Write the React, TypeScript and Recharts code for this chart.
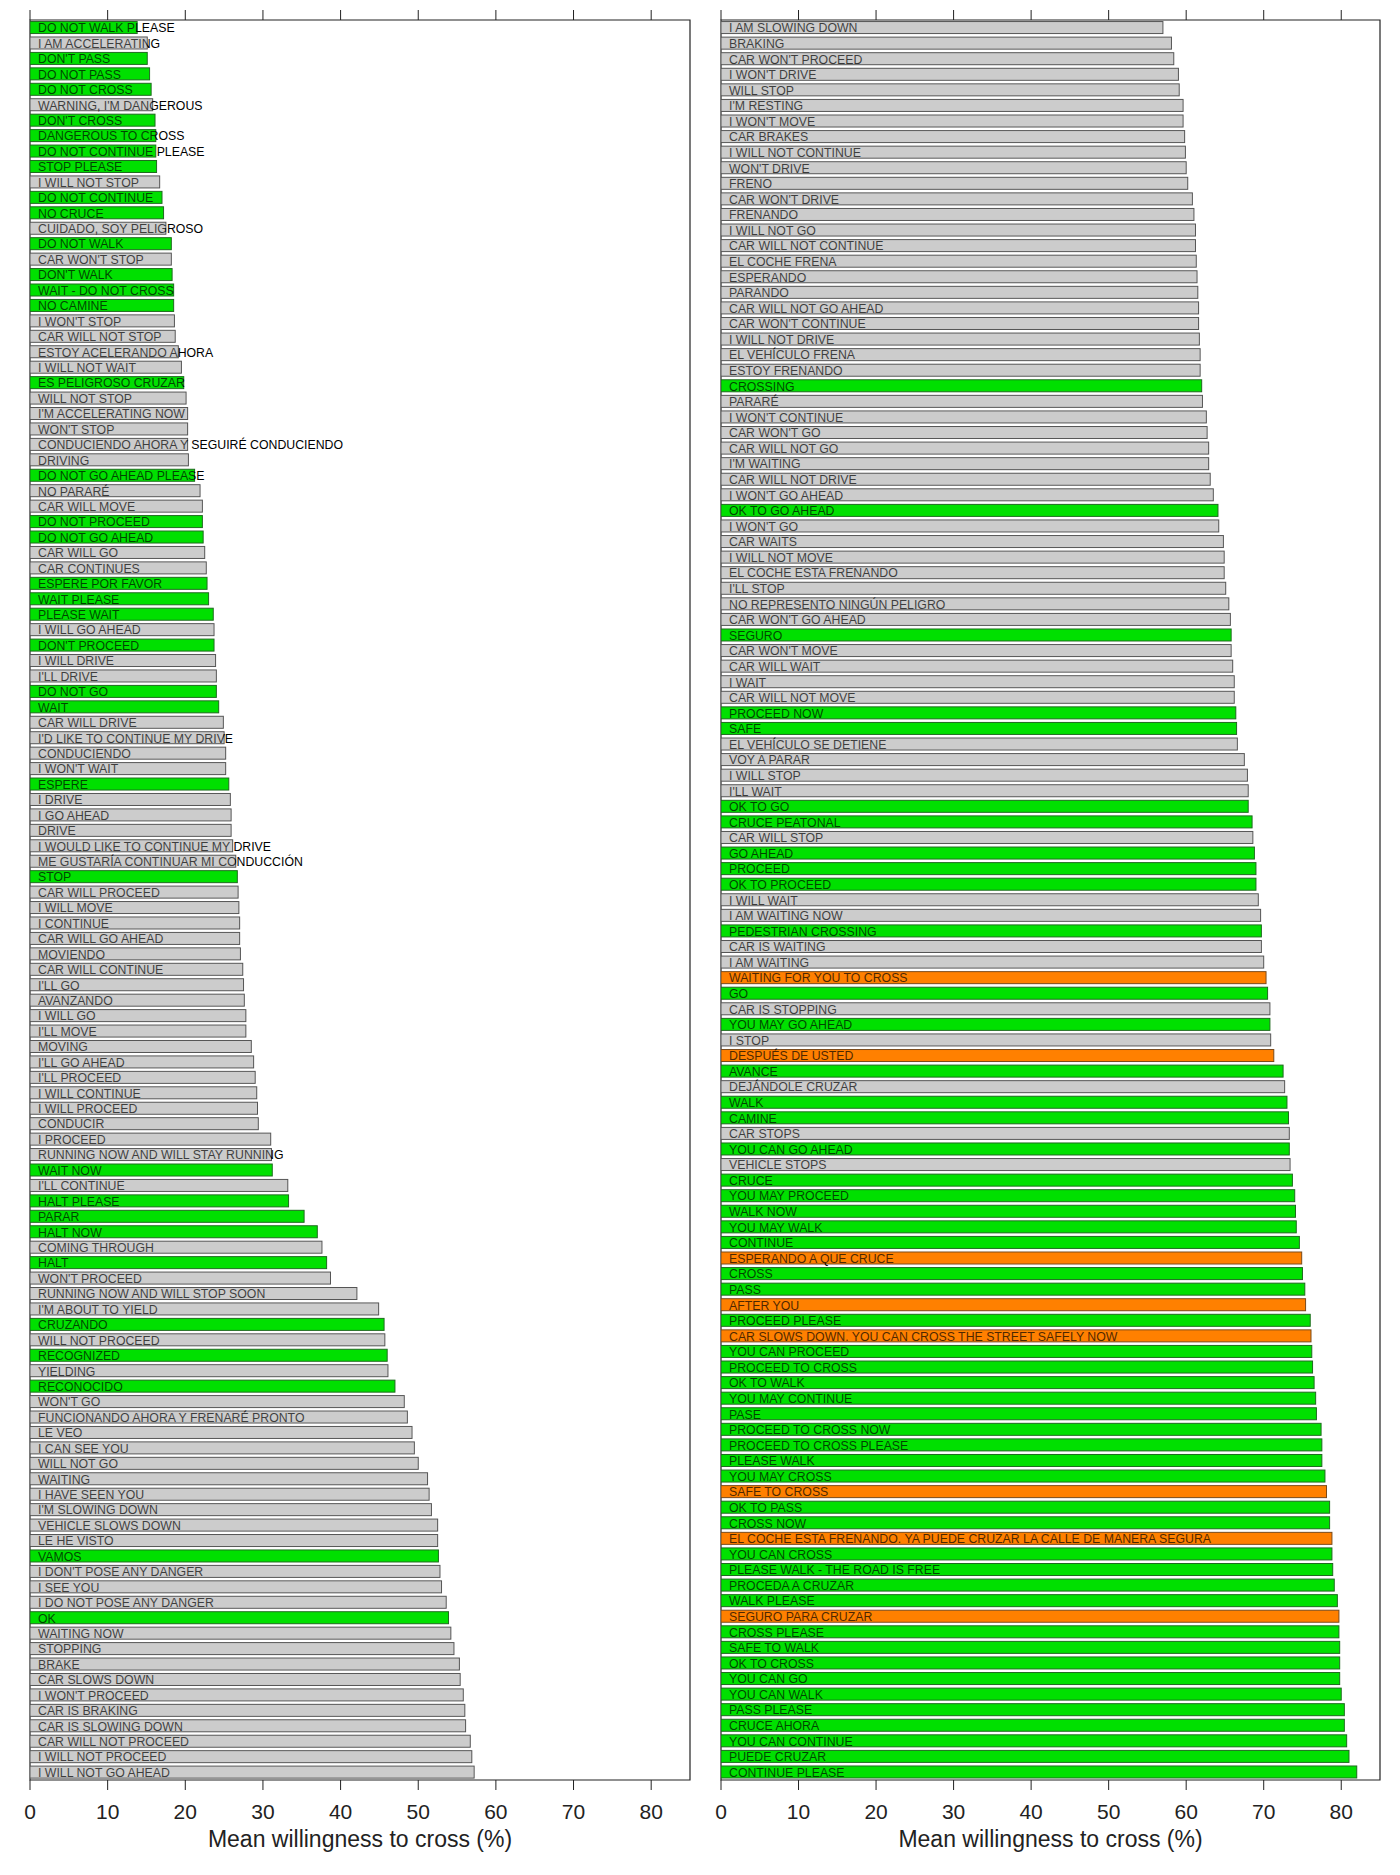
import React from 'react';
import { BarChart, Bar, XAxis, YAxis, ReferenceArea } from 'recharts';

const leftLabels = [
  'DO NOT WALK PLEASE', 'I AM ACCELERATING', "DON'T PASS", 'DO NOT PASS', 'DO NOT CROSS',
  "WARNING, I'M DANGEROUS", "DON'T CROSS", 'DANGEROUS TO CROSS', 'DO NOT CONTINUE PLEASE', 'STOP PLEASE',
  'I WILL NOT STOP', 'DO NOT CONTINUE', 'NO CRUCE', 'CUIDADO, SOY PELIGROSO', 'DO NOT WALK',
  "CAR WON'T STOP", "DON'T WALK", 'WAIT - DO NOT CROSS', 'NO CAMINE', "I WON'T STOP",
  'CAR WILL NOT STOP', 'ESTOY ACELERANDO AHORA', 'I WILL NOT WAIT', 'ES PELIGROSO CRUZAR', 'WILL NOT STOP',
  "I'M ACCELERATING NOW", "WON'T STOP", 'CONDUCIENDO AHORA Y SEGUIRÉ CONDUCIENDO', 'DRIVING', 'DO NOT GO AHEAD PLEASE',
  'NO PARARÉ', 'CAR WILL MOVE', 'DO NOT PROCEED', 'DO NOT GO AHEAD', 'CAR WILL GO',
  'CAR CONTINUES', 'ESPERE POR FAVOR', 'WAIT PLEASE', 'PLEASE WAIT', 'I WILL GO AHEAD',
  "DON'T PROCEED", 'I WILL DRIVE', "I'LL DRIVE", 'DO NOT GO', 'WAIT',
  'CAR WILL DRIVE', "I'D LIKE TO CONTINUE MY DRIVE", 'CONDUCIENDO', "I WON'T WAIT", 'ESPERE',
  'I DRIVE', 'I GO AHEAD', 'DRIVE', 'I WOULD LIKE TO CONTINUE MY DRIVE', 'ME GUSTARÍA CONTINUAR MI CONDUCCIÓN',
  'STOP', 'CAR WILL PROCEED', 'I WILL MOVE', 'I CONTINUE', 'CAR WILL GO AHEAD',
  'MOVIENDO', 'CAR WILL CONTINUE', "I'LL GO", 'AVANZANDO', 'I WILL GO',
  "I'LL MOVE", 'MOVING', "I'LL GO AHEAD", "I'LL PROCEED", 'I WILL CONTINUE',
  'I WILL PROCEED', 'CONDUCIR', 'I PROCEED', 'RUNNING NOW AND WILL STAY RUNNING', 'WAIT NOW',
  "I'LL CONTINUE", 'HALT PLEASE', 'PARAR', 'HALT NOW', 'COMING THROUGH',
  'HALT', "WON'T PROCEED", 'RUNNING NOW AND WILL STOP SOON', "I'M ABOUT TO YIELD", 'CRUZANDO',
  'WILL NOT PROCEED', 'RECOGNIZED', 'YIELDING', 'RECONOCIDO', "WON'T GO",
  'FUNCIONANDO AHORA Y FRENARÉ PRONTO', 'LE VEO', 'I CAN SEE YOU', 'WILL NOT GO', 'WAITING',
  'I HAVE SEEN YOU', "I'M SLOWING DOWN", 'VEHICLE SLOWS DOWN', 'LE HE VISTO', 'VAMOS',
  "I DON'T POSE ANY DANGER", 'I SEE YOU', 'I DO NOT POSE ANY DANGER', 'OK', 'WAITING NOW',
  'STOPPING', 'BRAKE', 'CAR SLOWS DOWN', "I WON'T PROCEED", 'CAR IS BRAKING',
  'CAR IS SLOWING DOWN', 'CAR WILL NOT PROCEED', 'I WILL NOT PROCEED', 'I WILL NOT GO AHEAD',
];

const leftValues = [
  13.8, 15.1, 15.1, 15.4, 15.6, 15.8, 16.1, 16.2, 16.2, 16.3,
  16.7, 17.0, 17.2, 17.5, 18.2, 18.2, 18.3, 18.5, 18.5, 18.6,
  18.7, 19.1, 19.5, 19.8, 20.1, 20.3, 20.3, 20.3, 20.4, 21.2,
  21.9, 22.2, 22.2, 22.3, 22.5, 22.7, 22.8, 23.0, 23.6, 23.7,
  23.7, 23.9, 24.0, 24.0, 24.3, 24.9, 25.0, 25.2, 25.2, 25.6,
  25.8, 25.9, 25.9, 26.1, 26.5, 26.7, 26.8, 26.9, 27.0, 27.0,
  27.1, 27.4, 27.5, 27.6, 27.8, 27.8, 28.5, 28.8, 29.0, 29.2,
  29.3, 29.4, 31.0, 31.1, 31.2, 33.2, 33.3, 35.3, 37.0, 37.6,
  38.2, 38.7, 42.1, 44.9, 45.6, 45.7, 46.0, 46.1, 47.0, 48.2,
  48.6, 49.2, 49.5, 50.0, 51.2, 51.4, 51.7, 52.5, 52.5, 52.6,
  52.8, 53.0, 53.6, 53.9, 54.2, 54.6, 55.3, 55.4, 55.8, 56.0,
  56.1, 56.7, 56.9, 57.2,
];

// G = green, N = grey, O = orange
const leftGroups = [
  'G', 'N', 'G', 'G', 'G', 'N', 'G', 'G', 'G', 'G',
  'N', 'G', 'G', 'N', 'G', 'N', 'G', 'G', 'G', 'N',
  'N', 'N', 'N', 'G', 'N', 'N', 'N', 'N', 'N', 'G',
  'N', 'N', 'G', 'G', 'N', 'N', 'G', 'G', 'G', 'N',
  'G', 'N', 'N', 'G', 'G', 'N', 'N', 'N', 'N', 'G',
  'N', 'N', 'N', 'N', 'N', 'G', 'N', 'N', 'N', 'N',
  'N', 'N', 'N', 'N', 'N', 'N', 'N', 'N', 'N', 'N',
  'N', 'N', 'N', 'N', 'G', 'N', 'G', 'G', 'G', 'N',
  'G', 'N', 'N', 'N', 'G', 'N', 'G', 'N', 'G', 'N',
  'N', 'N', 'N', 'N', 'N', 'N', 'N', 'N', 'N', 'G',
  'N', 'N', 'N', 'G', 'N', 'N', 'N', 'N', 'N', 'N',
  'N', 'N', 'N', 'N',
];

const rightLabels = [
  'I AM SLOWING DOWN', 'BRAKING', "CAR WON'T PROCEED", "I WON'T DRIVE", 'WILL STOP',
  "I'M RESTING", "I WON'T MOVE", 'CAR BRAKES', 'I WILL NOT CONTINUE', "WON'T DRIVE",
  'FRENO', "CAR WON'T DRIVE", 'FRENANDO', 'I WILL NOT GO', 'CAR WILL NOT CONTINUE',
  'EL COCHE FRENA', 'ESPERANDO', 'PARANDO', 'CAR WILL NOT GO AHEAD', "CAR WON'T CONTINUE",
  'I WILL NOT DRIVE', 'EL VEHÍCULO FRENA', 'ESTOY FRENANDO', 'CROSSING', 'PARARÉ',
  "I WON'T CONTINUE", "CAR WON'T GO", 'CAR WILL NOT GO', "I'M WAITING", 'CAR WILL NOT DRIVE',
  "I WON'T GO AHEAD", 'OK TO GO AHEAD', "I WON'T GO", 'CAR WAITS', 'I WILL NOT MOVE',
  'EL COCHE ESTA FRENANDO', "I'LL STOP", 'NO REPRESENTO NINGÚN PELIGRO', "CAR WON'T GO AHEAD", 'SEGURO',
  "CAR WON'T MOVE", 'CAR WILL WAIT', 'I WAIT', 'CAR WILL NOT MOVE', 'PROCEED NOW',
  'SAFE', 'EL VEHÍCULO SE DETIENE', 'VOY A PARAR', 'I WILL STOP', "I'LL WAIT",
  'OK TO GO', 'CRUCE PEATONAL', 'CAR WILL STOP', 'GO AHEAD', 'PROCEED',
  'OK TO PROCEED', 'I WILL WAIT', 'I AM WAITING NOW', 'PEDESTRIAN CROSSING', 'CAR IS WAITING',
  'I AM WAITING', 'WAITING FOR YOU TO CROSS', 'GO', 'CAR IS STOPPING', 'YOU MAY GO AHEAD',
  'I STOP', 'DESPUÉS DE USTED', 'AVANCE', 'DEJÁNDOLE CRUZAR', 'WALK',
  'CAMINE', 'CAR STOPS', 'YOU CAN GO AHEAD', 'VEHICLE STOPS', 'CRUCE',
  'YOU MAY PROCEED', 'WALK NOW', 'YOU MAY WALK', 'CONTINUE', 'ESPERANDO A QUE CRUCE',
  'CROSS', 'PASS', 'AFTER YOU', 'PROCEED PLEASE', 'CAR SLOWS DOWN. YOU CAN CROSS THE STREET SAFELY NOW',
  'YOU CAN PROCEED', 'PROCEED TO CROSS', 'OK TO WALK', 'YOU MAY CONTINUE', 'PASE',
  'PROCEED TO CROSS NOW', 'PROCEED TO CROSS PLEASE', 'PLEASE WALK', 'YOU MAY CROSS', 'SAFE TO CROSS',
  'OK TO PASS', 'CROSS NOW', 'EL COCHE ESTA FRENANDO. YA PUEDE CRUZAR LA CALLE DE MANERA SEGURA', 'YOU CAN CROSS', 'PLEASE WALK - THE ROAD IS FREE',
  'PROCEDA A CRUZAR', 'WALK PLEASE', 'SEGURO PARA CRUZAR', 'CROSS PLEASE', 'SAFE TO WALK',
  'OK TO CROSS', 'YOU CAN GO', 'YOU CAN WALK', 'PASS PLEASE', 'CRUCE AHORA',
  'YOU CAN CONTINUE', 'PUEDE CRUZAR', 'CONTINUE PLEASE',
];

const rightValues = [
  57.0, 58.1, 58.4, 59.0, 59.1, 59.6, 59.6, 59.8, 59.9, 60.0,
  60.2, 60.8, 61.0, 61.2, 61.2, 61.3, 61.4, 61.5, 61.6, 61.6,
  61.7, 61.8, 61.8, 62.0, 62.1, 62.6, 62.7, 62.9, 62.9, 63.1,
  63.5, 64.1, 64.2, 64.8, 64.9, 64.9, 65.1, 65.5, 65.7, 65.8,
  65.8, 66.0, 66.2, 66.2, 66.4, 66.5, 66.6, 67.5, 67.9, 68.0,
  68.0, 68.5, 68.6, 68.8, 69.0, 69.0, 69.3, 69.6, 69.7, 69.7,
  70.0, 70.3, 70.5, 70.8, 70.8, 70.9, 71.3, 72.5, 72.7, 73.0,
  73.2, 73.3, 73.3, 73.4, 73.7, 74.0, 74.1, 74.2, 74.6, 74.9,
  75.0, 75.3, 75.4, 76.0, 76.1, 76.2, 76.3, 76.5, 76.7, 76.8,
  77.4, 77.5, 77.5, 77.9, 78.1, 78.5, 78.5, 78.8, 78.8, 78.9,
  79.1, 79.5, 79.7, 79.7, 79.8, 79.8, 79.8, 80.0, 80.4, 80.4,
  80.7, 81.0, 82.0,
];

const rightGroups = [
  'N', 'N', 'N', 'N', 'N', 'N', 'N', 'N', 'N', 'N',
  'N', 'N', 'N', 'N', 'N', 'N', 'N', 'N', 'N', 'N',
  'N', 'N', 'N', 'G', 'N', 'N', 'N', 'N', 'N', 'N',
  'N', 'G', 'N', 'N', 'N', 'N', 'N', 'N', 'N', 'G',
  'N', 'N', 'N', 'N', 'G', 'G', 'N', 'N', 'N', 'N',
  'G', 'G', 'N', 'G', 'G', 'G', 'N', 'N', 'G', 'N',
  'N', 'O', 'G', 'N', 'G', 'N', 'O', 'G', 'N', 'G',
  'G', 'N', 'G', 'N', 'G', 'G', 'G', 'G', 'G', 'O',
  'G', 'G', 'O', 'G', 'O', 'G', 'G', 'G', 'G', 'G',
  'G', 'G', 'G', 'G', 'O', 'G', 'G', 'O', 'G', 'G',
  'G', 'G', 'O', 'G', 'G', 'G', 'G', 'G', 'G', 'G',
  'G', 'G', 'G',
];

const xTicks = [0, 10, 20, 30, 40, 50, 60, 70, 80];
const xTitle = 'Mean willingness to cross (%)';

const FILL: Record<string, string> = { G: '#00e000', N: '#cccccc', O: '#ff8000' };
const STROKE: Record<string, string> = { G: '#1f6a1f', N: '#555555', O: '#7a4a1a' };
const FONT = '"Liberation Sans", Arial, Helvetica, sans-serif';

const CHART_H = 1875;
const PLOT_TOP = 10;
const AXIS_H = 60;
const BOTTOM_M = 25;
const PLOT_H = CHART_H - PLOT_TOP - AXIS_H - BOTTOM_M;

function build(labels: string[], values: number[], groups: string[]) {
  return labels.map((label, i) => ({ label, value: values[i], group: groups[i] }));
}

const leftData = build(leftLabels, leftValues, leftGroups);
const rightData = build(rightLabels, rightValues, rightGroups);

const BarShape = (props: any) => {
  const { x, y, width, height, payload } = props;
  const g = (payload && payload.group) || 'N';
  const label = payload ? payload.label : '';
  return (
    <g>
      <rect x={x} y={y} width={width} height={height} fill={FILL[g]} stroke={STROKE[g]} strokeWidth={1} />
      <text x={x + 8} y={y + height - 1.2} fontSize={12.3} fontFamily={FONT} fill="#000">
        {label}
      </text>
      <rect
        x={x + 0.8}
        y={y + 0.8}
        width={Math.max(0, width - 1.6)}
        height={Math.max(0, height - 1.6)}
        fill={FILL[g]}
        fillOpacity={0.3}
        stroke="none"
      />
    </g>
  );
};

const BottomTick = (props: any) => {
  const { x, y, payload } = props;
  return (
    <g>
      <line x1={x} x2={x} y1={y} y2={y - 10} stroke="#222" strokeWidth={1} />
      <line x1={x} x2={x} y1={y - PLOT_H} y2={y - PLOT_H + 10} stroke="#222" strokeWidth={1} />
      <text x={x} y={y + 28.5} textAnchor="middle" fontSize={21} fontFamily={FONT} fill="#222">
        {payload.value}
      </text>
    </g>
  );
};

const TitleLabel = (props: any) => {
  const vb = props.viewBox || {};
  const cx = (vb.x || 0) + (vb.width || 0) / 2;
  const y = (vb.y || 0) + 57;
  return (
    <text x={cx} y={y} textAnchor="middle" fontSize={23} fontFamily={FONT} fill="#222">
      {xTitle}
    </text>
  );
};

function Panel({ data, marginLeft, marginRight }: { data: any[]; marginLeft: number; marginRight: number }) {
  return (
    <BarChart
      width={700}
      height={CHART_H}
      data={data}
      layout="vertical"
      barCategoryGap="10%"
      margin={{ top: PLOT_TOP, right: marginRight, bottom: BOTTOM_M, left: marginLeft }}
    >
      <XAxis
        type="number"
        domain={[0, 85]}
        ticks={xTicks}
        allowDataOverflow
        interval={0}
        axisLine={false}
        tickLine={false}
        tickSize={0}
        tickMargin={0}
        height={AXIS_H}
        tick={<BottomTick />}
        label={(p: any) => <TitleLabel {...p} />}
      />
      <YAxis type="category" dataKey="label" hide width={0} padding={{ top: 10, bottom: 10 }} />
      <Bar dataKey="value" isAnimationActive={false} shape={(p: any) => <BarShape {...p} />} />
      <ReferenceArea x1={0} x2={85} fill="none" stroke="#222" strokeWidth={1.2} ifOverflow="visible" />
    </BarChart>
  );
}

export default function App() {
  return (
    <div style={{ position: 'absolute', left: 0, top: 0, width: 1400, height: 1875, background: '#fff' }}>
      <div style={{ position: 'absolute', left: 0, top: 0 }}>
        <Panel data={leftData} marginLeft={30} marginRight={10} />
      </div>
      <div style={{ position: 'absolute', left: 700, top: 0 }}>
        <Panel data={rightData} marginLeft={21} marginRight={20} />
      </div>
    </div>
  );
}
